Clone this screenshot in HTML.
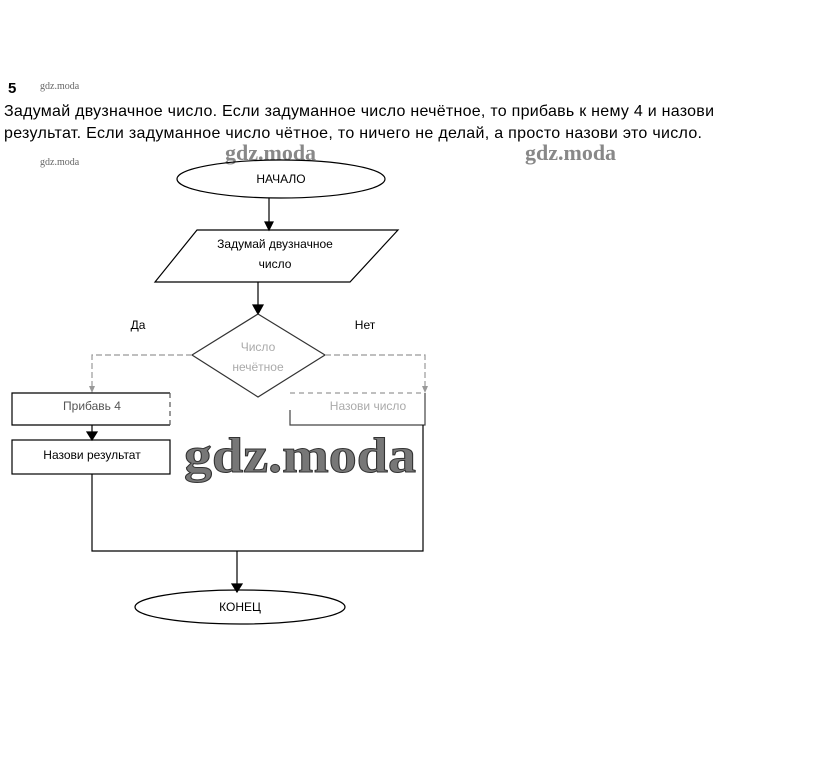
<!DOCTYPE html>
<html><head><meta charset="utf-8"><style>
html,body{margin:0;padding:0;background:#fff;}
svg{display:block;}
</style></head><body>
<svg width="823" height="771" viewBox="0 0 823 771" xmlns="http://www.w3.org/2000/svg">
<g font-family="Liberation Sans, sans-serif">
<text x="8" y="93" font-size="15" font-weight="bold">5</text>
<text x="40" y="89" font-size="10" font-family="Liberation Serif, serif" fill="#666">gdz.moda</text>
<text x="40" y="165" font-size="10" font-family="Liberation Serif, serif" fill="#666">gdz.moda</text>
<text x="4" y="116" font-size="16" textLength="710">Задумай двузначное число. Если задуманное число нечётное, то прибавь к нему 4 и назови</text>
<text x="4" y="138" font-size="16" textLength="698">результат. Если задуманное число  чётное, то ничего не делай, а просто назови это число.</text>
<text x="225" y="160" font-size="22" font-weight="bold" font-family="Liberation Serif, serif" fill="#888">gdz.moda</text>
<text x="525" y="160" font-size="22" font-weight="bold" font-family="Liberation Serif, serif" fill="#888">gdz.moda</text>
</g>
<g stroke="#000" stroke-width="1.2" fill="none">
<ellipse cx="281" cy="179" rx="104" ry="19"/>
<line x1="269" y1="198" x2="269" y2="229"/>
<path d="M265,222 L273,222 L269,230 z" fill="#000"/>
<polygon points="197,230 398,230 350,282 155,282"/>
<line x1="258" y1="282" x2="258" y2="312"/>
<path d="M253,305 L263,305 L258,314 z" fill="#000"/>
<polygon points="258,314 325,355 258,397 192,355" stroke="#333"/>
<g stroke="#999" stroke-dasharray="6,3">
<polyline points="192,355 92,355 92,390"/>
<polyline points="325,355 425,355 425,390"/>
</g>
<path d="M89,386 L95,386 L92,393 z" fill="#999" stroke="none"/>
<path d="M422,386 L428,386 L425,393 z" fill="#999" stroke="none"/>
<polyline points="170,393 12,393 12,425 170,425" />
<line x1="170" y1="393" x2="170" y2="425" stroke="#555" stroke-dasharray="5,4"/>
<polyline points="290,410 290,425 425,425 425,393" stroke="#444"/>
<line x1="290" y1="393" x2="425" y2="393" stroke="#999" stroke-dasharray="5,4"/>
<line x1="92" y1="425" x2="92" y2="439"/>
<path d="M87,432 L97,432 L92,440 z" fill="#000"/>
<rect x="12" y="440" width="158" height="34"/>
<polyline points="92,474 92,551 423,551 423,425"/>
<line x1="237" y1="551" x2="237" y2="592"/>
<path d="M232,584 L242,584 L237,592 z" fill="#000"/>
<ellipse cx="240" cy="607" rx="105" ry="17"/>
</g>
<g font-family="Liberation Sans, sans-serif" font-size="12" text-anchor="middle">
<text x="281" y="183">НАЧАЛО</text>
<text x="275" y="248">Задумай двузначное</text>
<text x="275" y="268">число</text>
<text x="138" y="329">Да</text>
<text x="365" y="329">Нет</text>
<text x="258" y="351" fill="#aaa">Число</text>
<text x="258" y="371" fill="#aaa">нечётное</text>
<text x="92" y="410" fill="#555">Прибавь 4</text>
<text x="368" y="410" fill="#aaa">Назови число</text>
<text x="92" y="459">Назови результат</text>
<text x="240" y="611">КОНЕЦ</text>
</g>
<text x="184" y="472" font-size="50" font-weight="bold" font-family="Liberation Serif, serif" fill="#777" stroke="#333" stroke-width="1" textLength="232" lengthAdjust="spacingAndGlyphs">gdz.moda</text>
</svg>
</body></html>
